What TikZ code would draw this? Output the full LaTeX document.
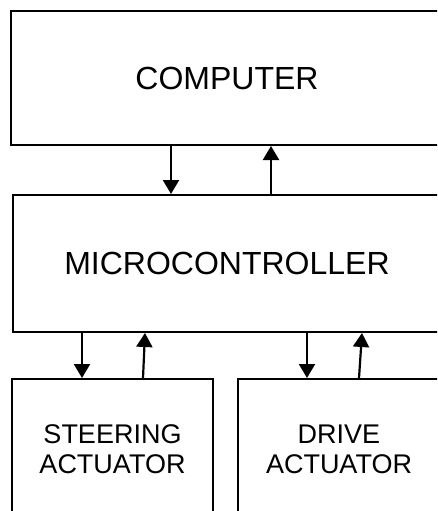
\documentclass[tikz,border=0pt]{standalone}
\usepackage{fontspec}
\setmainfont{Liberation Sans}
\usetikzlibrary{arrows.meta}
\begin{document}
\begin{tikzpicture}[x=1pt,y=-1pt,
  box/.style={draw=black,line width=2pt,rectangle,inner sep=0pt,align=center},
  bigtxt/.style={font=\fontsize{32}{38}\selectfont},
  smalltxt/.style={font=\fontsize{27}{30}\selectfont},
  arr/.style={line width=2.2pt,-{Triangle[length=14pt,width=16pt]}}]
\useasboundingbox (0,0) rectangle (437,511);
\clip (0,0) rectangle (437,511);
\fill[white] (0,0) rectangle (437,511);
\node[box,bigtxt,minimum width=432pt,minimum height=134pt] (comp) at (227,78) {COMPUTER};
\node[box,bigtxt,minimum width=428pt,minimum height=137pt] (micro) at (227,263.5) {MICROCONTROLLER};
\node[box,smalltxt,minimum width=201pt,minimum height=141pt] (steer) at (112.5,449.5) {STEERING\\ACTUATOR};
\node[box,smalltxt,minimum width=202pt,minimum height=141pt] (drive) at (339,449.5) {DRIVE\\ACTUATOR};
\coordinate (a1) at (171,0);
\coordinate (a2) at (271,0);
\coordinate (b1) at (82,0);
\coordinate (b2b) at (143,0);
\coordinate (b2t) at (145,0);
\coordinate (c1) at (307,0);
\coordinate (c2b) at (359,0);
\coordinate (c2t) at (362,0);
\draw[arr] (comp.south -| a1) -- (micro.north -| a1);
\draw[arr] (micro.north -| a2) -- (comp.south -| a2);
\draw[arr] (micro.south -| b1) -- (steer.north -| b1);
\draw[arr] (steer.north -| b2b) -- (micro.south -| b2t);
\draw[arr] (micro.south -| c1) -- (drive.north -| c1);
\draw[arr] (drive.north -| c2b) -- (micro.south -| c2t);
\end{tikzpicture}
\end{document}
